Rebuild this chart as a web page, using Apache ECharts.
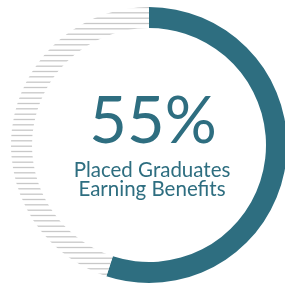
<!DOCTYPE html>
<html>
<head>
<meta charset="utf-8">
<script src="https://cdn.jsdelivr.net/npm/echarts@6/dist/echarts.min.js"></script>
<style>
  html, body { margin: 0; padding: 0; background: #fff; }
  #chart { width: 285px; height: 284px; }
</style>
</head>
<body>
<div id="chart"></div>
<script>
  var categories = ['Earning Benefits', 'Other'];
  var values = [55, 45];
  var headline = '55%';
  var caption = ['Placed Graduates', 'Earning Benefits'];

  var teal = '#2e6e80';

  // striped fill for the remaining part of the ring
  var stripe = document.createElement('canvas');
  stripe.width = 4;
  stripe.height = 16;
  var ctx = stripe.getContext('2d');
  ctx.fillStyle = '#fff';
  ctx.fillRect(0, 0, 4, 16);
  ctx.strokeStyle = '#c8c8c8';
  ctx.lineWidth = 1.3;
  [2.2, 7.5, 12.8].forEach(function (y) {
    ctx.beginPath();
    ctx.moveTo(0, y);
    ctx.lineTo(4, y);
    ctx.stroke();
  });

  var chart = echarts.init(document.getElementById('chart'));
  chart.setOption({
    animation: false,
    series: [{
      type: 'pie',
      center: [149, 145],
      radius: [117, 138],
      startAngle: 90,
      clockwise: true,
      silent: true,
      label: { show: false },
      labelLine: { show: false },
      data: categories.map(function (c, i) {
        return {
          name: c,
          value: values[i],
          itemStyle: { color: i === 0 ? teal : { image: stripe, repeat: 'repeat' } }
        };
      })
    }],
    graphic: [
      { type: 'text', x: 153, y: 122, style: { text: headline, fill: teal, font: '400 65px Lato', align: 'center', verticalAlign: 'middle' } },
      { type: 'text', x: 152, y: 170, style: { text: caption[0], fill: teal, font: '400 20.5px Lato', align: 'center', verticalAlign: 'middle' } },
      { type: 'text', x: 152, y: 189, style: { text: caption[1], fill: teal, font: '400 20.5px Lato', align: 'center', verticalAlign: 'middle' } }
    ]
  });
</script>
</body>
</html>
